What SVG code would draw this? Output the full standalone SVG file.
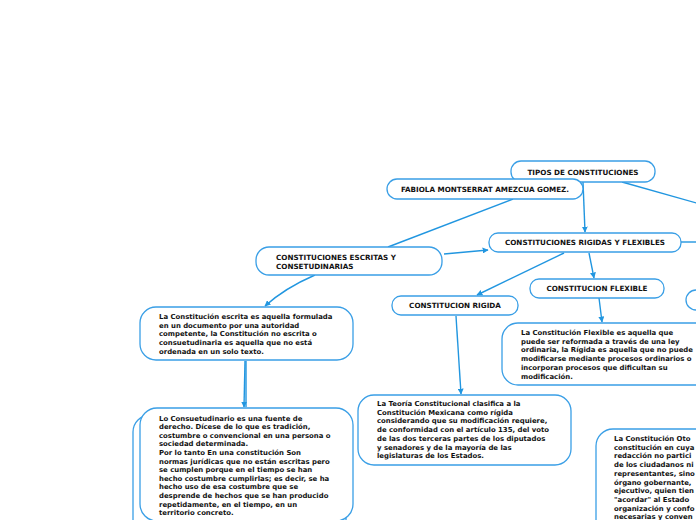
<svg xmlns="http://www.w3.org/2000/svg" width="696" height="520" viewBox="0 0 696 520">
<defs>
<marker id="ah" viewBox="0 0 10 10" refX="9" refY="5" markerWidth="6" markerHeight="6" orient="auto" markerUnits="userSpaceOnUse"><path d="M0,0 L10,5 L0,10 z" fill="#2196e0"/></marker>
<style>
.n{fill:#fff;stroke:#3a9fe6;stroke-width:1.3}
.c{fill:none;stroke:#2196e0;stroke-width:1.4}
.t{font-family:"DejaVu Sans",Verdana,sans-serif;font-weight:bold;font-size:7.2px;fill:#111}
.d{font-family:"DejaVu Sans",Verdana,sans-serif;font-weight:bold;font-size:6.9px;fill:#111}
</style>
</defs>
<rect width="696" height="520" fill="#fff"/>
<g id="connectors">
<line class="c" x1="583" y1="182" x2="585" y2="232" marker-end="url(#ah)"/>
<line class="c" x1="622" y1="182" x2="700" y2="204"/>
<line class="c" x1="513" y1="199" x2="388" y2="247"/>
<line class="c" x1="444" y1="254" x2="488" y2="250" marker-end="url(#ah)"/>
<line class="c" x1="681" y1="242" x2="700" y2="242"/>
<line class="c" x1="564" y1="253" x2="477" y2="295" marker-end="url(#ah)"/>
<line class="c" x1="589" y1="253" x2="594" y2="278" marker-end="url(#ah)"/>
<path class="c" d="M315,275 Q285,288 265,306" marker-end="url(#ah)"/>
<line class="c" x1="599" y1="298" x2="602" y2="322" marker-end="url(#ah)"/>
<line class="c" x1="456" y1="316" x2="461" y2="394" marker-end="url(#ah)"/>
<line class="c" x1="245" y1="361" x2="244" y2="407" marker-end="url(#ah)"/>
<line class="c" x1="246" y1="361" x2="246" y2="407"/>
</g>
<g id="n-tipos"><rect class="n" x="511" y="161" width="144" height="21" rx="10"/><text class="t" x="583" y="174.5" text-anchor="middle">TIPOS DE CONSTITUCIONES</text></g>
<g id="n-fabiola"><rect class="n" x="387" y="179" width="196" height="20" rx="10"/><text class="t" x="485" y="191.5" text-anchor="middle">FABIOLA MONTSERRAT AMEZCUA GOMEZ.</text></g>
<g id="n-rigflex"><rect class="n" x="489" y="233" width="192" height="19" rx="9"/><text class="t" x="585" y="245" text-anchor="middle">CONSTITUCIONES RIGIDAS Y FLEXIBLES</text></g>
<g id="n-escritas"><rect class="n" x="256" y="247" width="186" height="28" rx="13"/><text class="t" x="276" y="260">CONSTITUCIONES ESCRITAS Y</text><text class="t" x="276" y="268.5">CONSETUDINARIAS</text></g>
<g id="n-rigida"><rect class="n" x="392" y="296" width="126" height="19" rx="9"/><text class="t" x="455" y="308" text-anchor="middle">CONSTITUCION RIGIDA</text></g>
<g id="n-flexible"><rect class="n" x="530" y="279" width="134" height="19" rx="9"/><text class="t" x="597" y="291" text-anchor="middle">CONSTITUCION FLEXIBLE</text></g>
<g id="n-right"><rect class="n" x="686" y="290" width="40" height="20" rx="10"/></g>
<g id="n-flexdesc"><rect class="n" x="502" y="323" width="210" height="62" rx="16"/>
<text class="d" x="521" y="335">La Constitución Flexible es aquella que</text>
<text class="d" x="521" y="343.7">puede ser reformada a través de una ley</text>
<text class="d" x="521" y="352.4">ordinaria, la Rígida es aquella que no puede</text>
<text class="d" x="521" y="361.1">modificarse mediante procesos ordinarios o</text>
<text class="d" x="521" y="369.8">incorporan procesos que dificultan su</text>
<text class="d" x="521" y="378.5">modificación.</text></g>
<g id="n-escritadesc"><rect class="n" x="140" y="307" width="213" height="53" rx="16"/>
<text class="d" x="159" y="319">La Constitución escrita es aquella formulada</text>
<text class="d" x="159" y="327.7">en un documento por una autoridad</text>
<text class="d" x="159" y="336.4">competente, la Constitución no escrita o</text>
<text class="d" x="159" y="345.1">consuetudinaria es aquella que no está</text>
<text class="d" x="159" y="353.8">ordenada en un solo texto.</text></g>
<g id="n-rigidadesc"><rect class="n" x="358" y="395" width="213" height="70" rx="16"/>
<text class="d" x="377" y="406">La Teoría Constitucional clasifica a la</text>
<text class="d" x="377" y="414.7">Constitución Mexicana como rígida</text>
<text class="d" x="377" y="423.4">considerando que su modificación requiere,</text>
<text class="d" x="377" y="432.1">de conformidad con el artículo 135, del voto</text>
<text class="d" x="377" y="440.8">de las dos terceras partes de los diputados</text>
<text class="d" x="377" y="449.5">y senadores y de la mayoría de las</text>
<text class="d" x="377" y="458.2">legislaturas de los Estados.</text></g>
<g id="n-consue-back"><rect class="n" x="133" y="415" width="213" height="130" rx="17"/></g>
<g id="n-consue"><rect class="n" x="140" y="408" width="213" height="113" rx="17"/>
<text class="d" x="159" y="420.5">Lo Consuetudinario es una fuente de</text>
<text class="d" x="159" y="429.1">derecho. Dícese de lo que es tradición,</text>
<text class="d" x="159" y="437.7">costumbre o convencional en una persona o</text>
<text class="d" x="159" y="446.3">sociedad determinada.</text>
<text class="d" x="159" y="454.9">Por lo tanto En una constitución Son</text>
<text class="d" x="159" y="463.5">normas jurídicas que no están escritas pero</text>
<text class="d" x="159" y="472.1">se cumplen porque en el tiempo se han</text>
<text class="d" x="159" y="480.7">hecho costumbre cumplirlas; es decir, se ha</text>
<text class="d" x="159" y="489.3">hecho uso de esa costumbre que se</text>
<text class="d" x="159" y="497.9">desprende de hechos que se han producido</text>
<text class="d" x="159" y="506.5">repetidamente, en el tiempo, en un</text>
<text class="d" x="159" y="515.1">territorio concreto.</text></g>
<g id="n-otorgada"><rect class="n" x="596" y="429" width="160" height="120" rx="17"/>
<text class="d" x="614" y="441">La Constitución Oto</text>
<text class="d" x="614" y="449.7">constitución en cuya</text>
<text class="d" x="614" y="458.4">redacción no partici</text>
<text class="d" x="614" y="467.1">de los ciudadanos ni</text>
<text class="d" x="614" y="475.8">representantes, sino</text>
<text class="d" x="614" y="484.5">órgano gobernante,</text>
<text class="d" x="614" y="493.2">ejecutivo, quien tien</text>
<text class="d" x="614" y="501.9">"acordar" al Estado</text>
<text class="d" x="614" y="510.6">organización y confo</text>
<text class="d" x="614" y="519.3">necesarias y conven</text></g>
</svg>
